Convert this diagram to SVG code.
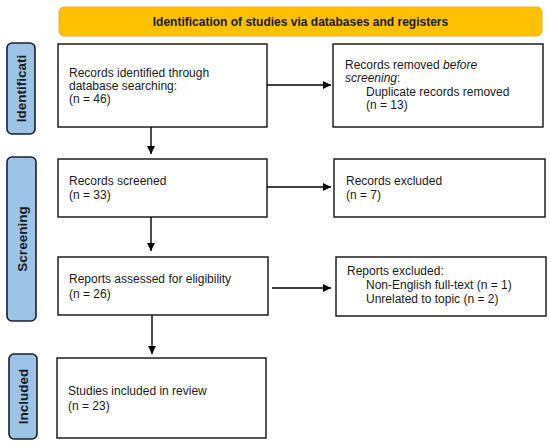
<svg xmlns="http://www.w3.org/2000/svg" width="550" height="447" viewBox="0 0 550 447">
<defs>
<marker id="ah" markerWidth="10" markerHeight="10" refX="9" refY="5" orient="auto" markerUnits="userSpaceOnUse">
<path d="M1,1 L9,5 L1,9 Z" fill="#000"/>
</marker>
<style>
.box{fill:#fff;stroke:#111;stroke-width:1.4}
.lab{fill:#9DC3E6;stroke:#1a1f2b;stroke-width:1.6}
.t{font-family:"Liberation Sans",Arial,sans-serif;font-size:12px;fill:#1a1a1a}
.b{font-family:"Liberation Sans",Arial,sans-serif;font-size:12px;font-weight:bold;fill:#1a1a1a}
.l{font-family:"Liberation Sans",Arial,sans-serif;font-size:13.5px;font-weight:bold;fill:#1a1a1a}
.c{stroke:#000;stroke-width:1.4;fill:none;marker-end:url(#ah)}
</style>
</defs>
<rect width="550" height="447" fill="#fff"/>
<g id="banner">
<rect x="59" y="7" width="483" height="29" rx="5" fill="#FFC000" stroke="#E9B030" stroke-width="1"/>
<text class="b" x="300.5" y="26" text-anchor="middle">Identification of studies via databases and registers</text>
</g>
<g id="label-identification">
<rect class="lab" x="7" y="43" width="28" height="91" rx="5"/>
<text class="l" transform="translate(26,88.5) rotate(-90)" text-anchor="middle">Identificati</text>
</g>
<g id="label-screening">
<rect class="lab" x="7" y="157" width="29" height="164" rx="5"/>
<text class="l" transform="translate(26.5,239) rotate(-90)" text-anchor="middle">Screening</text>
</g>
<g id="label-included">
<rect class="lab" x="9" y="354" width="28" height="85" rx="5"/>
<text class="l" transform="translate(28,396.5) rotate(-90)" text-anchor="middle">Included</text>
</g>
<g id="records-identified">
<rect class="box" x="58" y="44" width="209" height="83"/>
<text class="t" x="69" y="77">Records identified through</text>
<text class="t" x="69" y="90">database searching:</text>
<text class="t" x="69" y="103">(n = 46)</text>
</g>
<g id="records-removed">
<rect class="box" x="333" y="44" width="210" height="83"/>
<text class="t" x="345" y="69">Records removed <tspan font-style="italic">before</tspan></text>
<text class="t" x="345" y="82"><tspan font-style="italic">screening</tspan>:</text>
<text class="t" x="366" y="96">Duplicate records removed</text>
<text class="t" x="366" y="109">(n = 13)</text>
</g>
<g id="records-screened">
<rect class="box" x="58" y="159" width="209" height="58"/>
<text class="t" x="69" y="185">Records screened</text>
<text class="t" x="69" y="199">(n = 33)</text>
</g>
<g id="records-excluded">
<rect class="box" x="334" y="159" width="211" height="58"/>
<text class="t" x="346" y="185">Records excluded</text>
<text class="t" x="346" y="199">(n = 7)</text>
</g>
<g id="reports-assessed">
<rect class="box" x="58" y="257" width="210" height="58"/>
<text class="t" x="69" y="283">Reports assessed for eligibility</text>
<text class="t" x="69" y="298">(n = 26)</text>
</g>
<g id="reports-excluded">
<rect class="box" x="336" y="257" width="210" height="59"/>
<text class="t" x="347" y="275">Reports excluded:</text>
<text class="t" x="366" y="289">Non-English full-text (n = 1)</text>
<text class="t" x="366" y="303">Unrelated to topic (n = 2)</text>
</g>
<g id="studies-included">
<rect class="box" x="57" y="358" width="209" height="80"/>
<text class="t" x="68" y="395">Studies included in review</text>
<text class="t" x="68" y="410">(n = 23)</text>
</g>
<g id="connectors">
<line class="c" x1="267" y1="85" x2="331" y2="85"/>
<line class="c" x1="151" y1="127" x2="151" y2="154"/>
<line class="c" x1="267" y1="187" x2="331" y2="187"/>
<line class="c" x1="151" y1="217" x2="151" y2="251"/>
<line class="c" x1="272" y1="288" x2="331" y2="288"/>
<line class="c" x1="152" y1="315" x2="152" y2="354"/>
</g>
</svg>
